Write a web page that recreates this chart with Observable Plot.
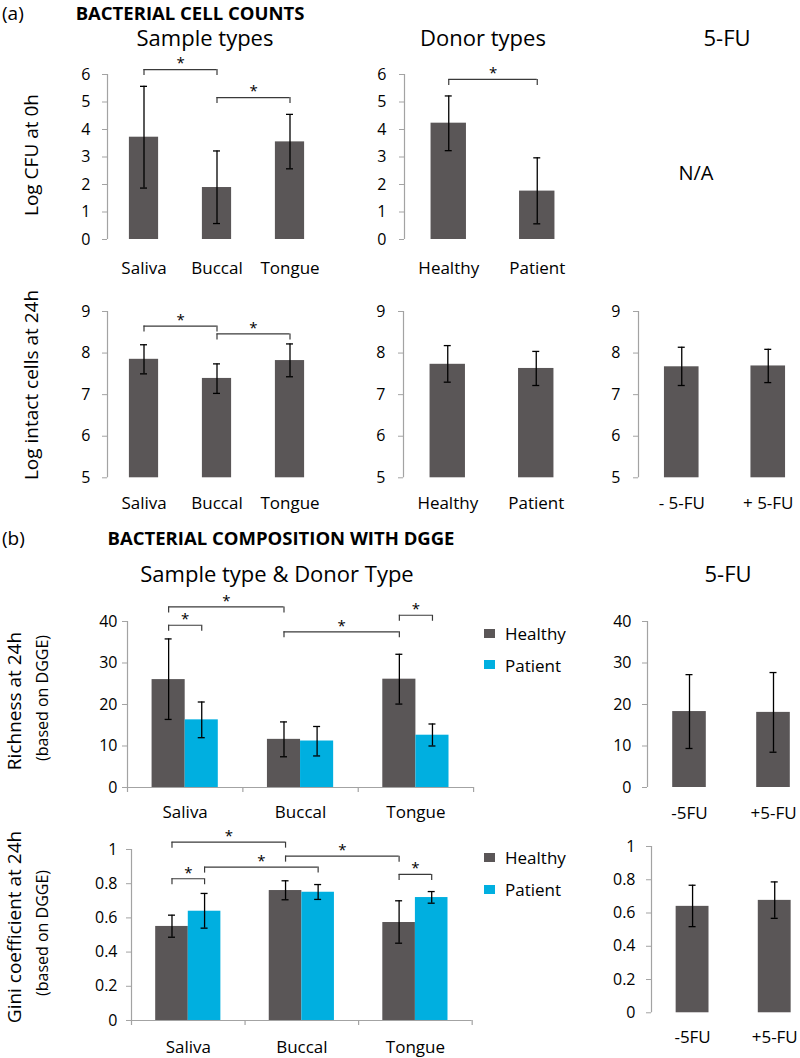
<!DOCTYPE html>
<html>
<head>
<meta charset="utf-8">
<script src="https://cdn.jsdelivr.net/npm/d3@7"></script>
<script src="https://cdn.jsdelivr.net/npm/@observablehq/plot@0.6"></script>
<style>
  html, body { margin: 0; padding: 0; background: #fff; }
  #root { position: relative; width: 800px; height: 1058px; overflow: hidden; background: #fff; font-family: "Open Sans", sans-serif; color: #000; }
  .t { position: absolute; white-space: nowrap; line-height: 1; }
  .sq { position: absolute; width: 11px; height: 9px; }
</style>
</head>
<body>
<div id="root"></div>
<script>
// ---------- DATA ----------
const sampleTypes = ["Saliva", "Buccal", "Tongue"];
const donorTypes = ["Healthy", "Patient"];
const fuLabelsA = ["- 5-FU", "+ 5-FU"];
const fuLabelsB = ["-5FU", "+5-FU"];

// (a) Log CFU at 0h
const cfuSampleMean = [3.72, 1.89, 3.55];
const cfuSampleLo   = [1.87, 0.58, 2.57];
const cfuSampleHi   = [5.57, 3.22, 4.55];
const cfuDonorMean  = [4.23, 1.76];
const cfuDonorLo    = [3.23, 0.57];
const cfuDonorHi    = [5.22, 2.97];

// (a) Log intact cells at 24h
const intactSampleMean = [7.85, 7.39, 7.82];
const intactSampleLo   = [7.50, 7.03, 7.43];
const intactSampleHi   = [8.20, 7.74, 8.22];
const intactDonorMean  = [7.73, 7.63];
const intactDonorLo    = [7.30, 7.22];
const intactDonorHi    = [8.18, 8.04];
const intactFuMean     = [7.67, 7.69];
const intactFuLo       = [7.22, 7.29];
const intactFuHi       = [8.14, 8.09];

// (b) Richness at 24h
const richHealthyMean = [26.0, 11.6, 26.1];
const richHealthyLo   = [16.4, 7.4, 20.1];
const richHealthyHi   = [35.8, 15.8, 32.1];
const richPatientMean = [16.3, 11.2, 12.6];
const richPatientLo   = [12.0, 7.6, 10.0];
const richPatientHi   = [20.6, 14.7, 15.3];
const richFuMean = [18.3, 18.1];
const richFuLo   = [9.4, 8.5];
const richFuHi   = [27.2, 27.7];

// (b) Gini coefficient at 24h
const giniHealthyMean = [0.550, 0.760, 0.573];
const giniHealthyLo   = [0.487, 0.706, 0.452];
const giniHealthyHi   = [0.616, 0.817, 0.700];
const giniPatientMean = [0.639, 0.750, 0.719];
const giniPatientLo   = [0.540, 0.708, 0.686];
const giniPatientHi   = [0.743, 0.795, 0.754];
const giniFuMean = [0.640, 0.676];
const giniFuLo   = [0.518, 0.568];
const giniFuHi   = [0.767, 0.787];

// significance brackets: [from bar, to bar, bracket height]
const cfuSampleSig    = [[0, 1, 6.18], [1, 2, 5.16]];
const cfuDonorSig     = [[0, 1, 5.82]];
const intactSampleSig = [[0, 1, 8.65], [1, 2, 8.46]];
// grouped: [group, series] pairs (series 0 = Healthy, 1 = Patient)
const richSig = [[[0,0],[0,1],39.1], [[0,0],[1,0],43.5], [[1,0],[2,0],37.5], [[2,0],[2,1],41.5]];
const giniSig = [[[0,0],[1,0],1.043], [[1,0],[2,0],0.961], [[0,1],[1,1],0.897], [[0,0],[0,1],0.829], [[2,0],[2,1],0.854]];

const seriesNames = ["Healthy", "Patient"];

// ---------- STYLE ----------
const DARK = "#5a5657";
const BLUE = "#00afe0";
const AXIS = "#a3a3a3";
const BRK = "#3a3a3a";
const FONT = '"Open Sans", sans-serif';
const root = document.getElementById("root");

function addText(str, x, y, {size = 17, weight = 400, rotate = false, anchor = "middle"} = {}) {
  const d = document.createElement("div");
  d.className = "t";
  d.textContent = str;
  d.style.left = x + "px";
  d.style.top = y + "px";
  d.style.fontSize = size + "px";
  d.style.fontWeight = weight;
  const tx = anchor === "start" ? "0" : "-50%";
  d.style.transform = `translate(${tx}, -50%)` + (rotate ? " rotate(-90deg)" : "");
  root.appendChild(d);
}
function addSwatch(color, x, y) {
  const s = document.createElement("div");
  s.className = "sq";
  s.style.left = x + "px";
  s.style.top = y + "px";
  s.style.background = color;
  root.appendChild(s);
}

function panel({x0, x1, y0, y1, n, yDomain, yTicks, tickPad = 12, labels, labelDy = 27,
                bars, half, brackets = [], xAxisLine = false}) {
  const mL = 60, mR = 10, mT = 50, mB = 45;
  const W = x1 - x0 + mL + mR, H = y1 - y0 + mT + mB;
  const pxX = (x1 - x0) / n, pxY = (y1 - y0) / (yDomain[1] - yDomain[0]);
  const cap = 3.5 / pxX, drop = 6 / pxY, sep = 5 / pxY;
  const caps = bars.flatMap(d => [{c: d.c, y: d.lo}, {c: d.c, y: d.hi}]);
  const ends = brackets.flatMap(b => [{x: b.xa, l: b.level}, {x: b.xb, l: b.level}]);
  const marks = [
    Plot.rectY(bars, {x1: d => d.c - half, x2: d => d.c + half, y1: () => yDomain[0], y2: d => d.v, fill: d => d.fill}),
    Plot.ruleX(bars, {x: d => d.c, y1: d => d.lo, y2: d => d.hi, stroke: "#000", strokeWidth: 1.3}),
    Plot.ruleY(caps, {y: d => d.y, x1: d => d.c - cap, x2: d => d.c + cap, stroke: "#000", strokeWidth: 1.3}),
    Plot.ruleX([0], {x: d => d, y1: () => yDomain[0], y2: () => yDomain[1], stroke: AXIS, strokeWidth: 1.2}),
    Plot.axisY({ticks: yTicks, tickSize: 5, tickPadding: tickPad, tickFormat: d => String(d), stroke: AXIS, fontSize: 16, label: null}),
    Plot.text(labels, {x: (d, i) => i + 0.5, y: () => yDomain[0], dy: labelDy, text: d => d, fontSize: 17}),
    Plot.ruleY(brackets, {y: d => d.level, x1: d => d.xa, x2: d => d.xb, stroke: BRK, strokeWidth: 1.2}),
    Plot.ruleX(ends, {x: d => d.x, y1: d => d.l - drop, y2: d => d.l, stroke: BRK, strokeWidth: 1.2}),
    Plot.text(brackets, {x: d => (d.xa + d.xb) / 2, y: d => d.level, text: () => "*", dy: -6, fontSize: 15})
  ];
  if (xAxisLine) {
    marks.push(Plot.ruleY([yDomain[0]], {y: d => d, x1: () => 0, x2: () => n, stroke: AXIS, strokeWidth: 1.2}));
    marks.push(Plot.ruleX(d3.range(n + 1), {x: d => d, y1: () => yDomain[0], y2: () => yDomain[0] - sep, stroke: AXIS, strokeWidth: 1.2}));
  }
  const p = Plot.plot({
    width: W, height: H,
    marginLeft: mL, marginRight: mR, marginTop: mT, marginBottom: mB,
    style: {background: "transparent", fontFamily: FONT, fontSize: "16px", color: "#000", overflow: "visible", maxWidth: "none"},
    x: {domain: [0, n], axis: null, label: null},
    y: {domain: yDomain, axis: null, label: null},
    color: {type: "identity"},
    marks
  });
  p.style.position = "absolute";
  p.style.left = (x0 - mL) + "px";
  p.style.top = (y0 - mT) + "px";
  root.appendChild(p);
}

function singleBars(mean, lo, hi) {
  return mean.map((v, i) => ({c: i + 0.5, v, lo: lo[i], hi: hi[i], fill: DARK}));
}
function singleSig(sig) {
  return sig.map(([a, b, level]) => ({xa: a + 0.5, xb: b + 0.5, level}));
}
const GW = 0.287; // bar width (fraction of group) for grouped bars
function groupCenter(g, s) { return g + 0.5 + (s === 0 ? -GW / 2 : GW / 2); }
function groupedBars(hMean, hLo, hHi, pMean, pLo, pHi) {
  const out = [];
  hMean.forEach((v, g) => out.push({c: groupCenter(g, 0), v, lo: hLo[g], hi: hHi[g], fill: DARK}));
  pMean.forEach((v, g) => out.push({c: groupCenter(g, 1), v, lo: pLo[g], hi: pHi[g], fill: BLUE}));
  return out;
}
function groupedSig(sig) {
  return sig.map(([a, b, level]) => ({xa: groupCenter(a[0], a[1]), xb: groupCenter(b[0], b[1]), level}));
}

const ticks06 = [0, 1, 2, 3, 4, 5, 6];
const ticks59 = [5, 6, 7, 8, 9];
const ticks040 = [0, 10, 20, 30, 40];
const ticks01 = [0, 0.2, 0.4, 0.6, 0.8, 1];

// ---------- (a) row 1 ----------
panel({x0: 107, x1: 326, y0: 74, y1: 239, n: 3, yDomain: [0, 6], yTicks: ticks06, tickPad: 12,
  labels: sampleTypes, labelDy: 29, bars: singleBars(cfuSampleMean, cfuSampleLo, cfuSampleHi), half: 0.2,
  brackets: singleSig(cfuSampleSig)});
panel({x0: 404, x1: 581, y0: 74, y1: 239, n: 2, yDomain: [0, 6], yTicks: ticks06, tickPad: 13,
  labels: donorTypes, labelDy: 29, bars: singleBars(cfuDonorMean, cfuDonorLo, cfuDonorHi), half: 0.2,
  brackets: singleSig(cfuDonorSig)});

// ---------- (a) row 2 ----------
panel({x0: 107, x1: 326, y0: 310.7, y1: 477, n: 3, yDomain: [5, 9], yTicks: ticks59, tickPad: 12,
  labels: sampleTypes, labelDy: 26, bars: singleBars(intactSampleMean, intactSampleLo, intactSampleHi), half: 0.2,
  brackets: singleSig(intactSampleSig)});
panel({x0: 403, x1: 580, y0: 310.7, y1: 477, n: 2, yDomain: [5, 9], yTicks: ticks59, tickPad: 13,
  labels: donorTypes, labelDy: 26, bars: singleBars(intactDonorMean, intactDonorLo, intactDonorHi), half: 0.2});
panel({x0: 638, x1: 811, y0: 310.7, y1: 477, n: 2, yDomain: [5, 9], yTicks: ticks59, tickPad: 13,
  labels: fuLabelsA, labelDy: 26, bars: singleBars(intactFuMean, intactFuLo, intactFuHi), half: 0.2});

// ---------- (b) row 1 ----------
panel({x0: 126.6, x1: 472.7, y0: 620.7, y1: 786.7, n: 3, yDomain: [0, 40], yTicks: ticks040, tickPad: 5,
  labels: sampleTypes, labelDy: 25, bars: groupedBars(richHealthyMean, richHealthyLo, richHealthyHi, richPatientMean, richPatientLo, richPatientHi),
  half: GW / 2, brackets: groupedSig(richSig), xAxisLine: true});
panel({x0: 647, x1: 815, y0: 620.7, y1: 786.7, n: 2, yDomain: [0, 40], yTicks: ticks040, tickPad: 11,
  labels: fuLabelsB, labelDy: 26, bars: singleBars(richFuMean, richFuLo, richFuHi), half: 0.2});

// ---------- (b) row 2 ----------
panel({x0: 131, x1: 471.7, y0: 849, y1: 1020, n: 3, yDomain: [0, 1], yTicks: ticks01, tickPad: 9,
  labels: sampleTypes, labelDy: 27, bars: groupedBars(giniHealthyMean, giniHealthyLo, giniHealthyHi, giniPatientMean, giniPatientLo, giniPatientHi),
  half: GW / 2, brackets: groupedSig(giniSig), xAxisLine: true});
panel({x0: 650.7, x1: 815, y0: 846, y1: 1012.3, n: 2, yDomain: [0, 1], yTicks: ticks01, tickPad: 11,
  labels: fuLabelsB, labelDy: 25, bars: singleBars(giniFuMean, giniFuLo, giniFuHi), half: 0.2});

// ---------- texts ----------
addText("(a)", 2, 13, {size: 19, anchor: "start"});
addText("BACTERIAL CELL COUNTS", 190, 13, {size: 18.5, weight: 700});
addText("Sample types", 205, 37, {size: 22});
addText("Donor types", 483, 37, {size: 22});
addText("5-FU", 727, 37, {size: 22});
addText("N/A", 696, 173, {size: 20});
addText("Log CFU at 0h", 31, 155, {size: 19, rotate: true});
addText("Log intact cells at 24h", 31, 385, {size: 19, rotate: true});

addText("(b)", 2, 538, {size: 19, anchor: "start"});
addText("BACTERIAL COMPOSITION WITH DGGE", 281, 538, {size: 18.5, weight: 700});
addText("Sample type & Donor Type", 277, 573, {size: 22});
addText("5-FU", 728, 573, {size: 22});
addText("Richness at 24h", 14, 701, {size: 19, rotate: true});
addText("(based on DGGE)", 42, 698, {size: 16, rotate: true});
addText("Gini coefficient at 24h", 14, 927, {size: 19, rotate: true});
addText("(based on DGGE)", 42, 933, {size: 16, rotate: true});

// legends
addSwatch(DARK, 484, 629); addText(seriesNames[0], 505, 633, {size: 17, anchor: "start"});
addSwatch(BLUE, 484, 660); addText(seriesNames[1], 505, 665, {size: 17, anchor: "start"});
addSwatch(DARK, 484, 853); addText(seriesNames[0], 505, 857, {size: 17, anchor: "start"});
addSwatch(BLUE, 484, 885); addText(seriesNames[1], 505, 889, {size: 17, anchor: "start"});
</script>
</body>
</html>
